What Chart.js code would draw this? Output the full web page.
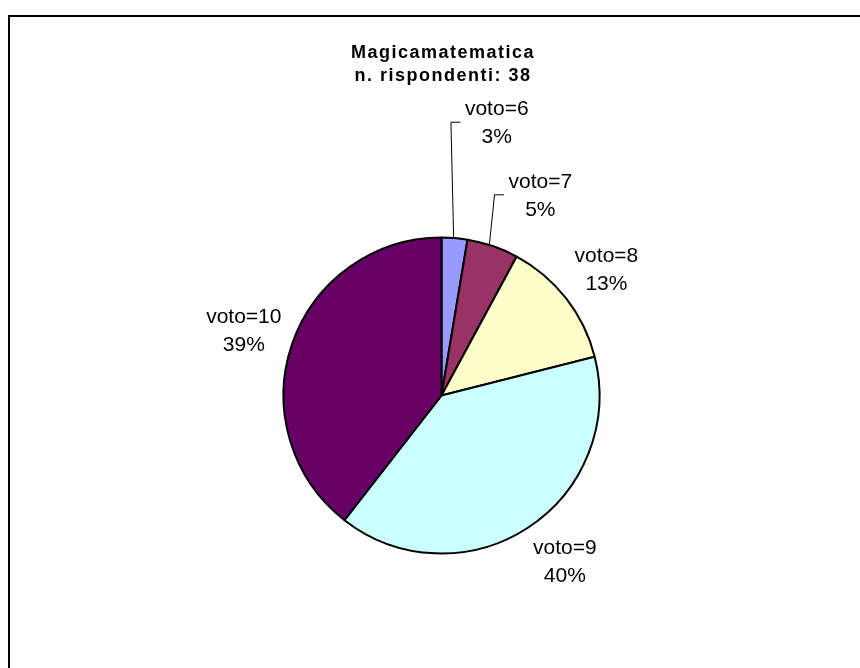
<!DOCTYPE html>
<html>
<head>
<meta charset="utf-8">
<script src="https://cdn.jsdelivr.net/npm/chart.js@4/dist/chart.umd.min.js"></script>
<style>
  html, body { margin: 0; padding: 0; background: #fff; }
  #wrap { position: relative; width: 860px; height: 668px; }
</style>
</head>
<body>
<div id="wrap"><canvas id="pieChart" width="860" height="668"></canvas></div>
<script>
const titleLines = ['Magicamatematica', 'n. rispondenti: 38'];
const categories = ['voto=6', 'voto=7', 'voto=8', 'voto=9', 'voto=10'];
const counts = [1, 2, 5, 15, 15];
const percentLabels = ['3%', '5%', '13%', '40%', '39%'];
const sliceColors = ['#9999FF', '#993366', '#FFFFCC', '#CCFFFF', '#660066'];

// label nudges (px) and which labels get a leader line
const labelNudge = [[38, -67], [31, -5], [0, 0], [9, -11], [0, 0]];
const hasLeader = [true, true, false, false, false];

const labelPlugin = {
    id: 'pieLabels',
    afterDraw(chart) {
        const ctx = chart.ctx;
        ctx.save();

        // frame
        ctx.strokeStyle = '#000';
        ctx.lineWidth = 2;
        ctx.beginPath();
        ctx.moveTo(9, 668);
        ctx.lineTo(9, 16);
        ctx.lineTo(860, 16);
        ctx.stroke();

        // title
        ctx.fillStyle = '#000';
        ctx.font = 'bold 18px "Liberation Sans", Arial, sans-serif';
        ctx.letterSpacing = '1.5px';
        ctx.textAlign = 'center';
        ctx.textBaseline = 'alphabetic';
        ctx.fillText(titleLines[0], 443, 58);
        ctx.fillText(titleLines[1], 443, 81);
        ctx.letterSpacing = '0px';

        // slice labels
        ctx.font = '21px "Liberation Sans", Arial, sans-serif';
        const arcs = chart.getDatasetMeta(0).data;
        arcs.forEach((arc, i) => {
            const p = arc.getProps(['x', 'y', 'startAngle', 'endAngle', 'outerRadius'], true);
            const mid = (p.startAngle + p.endAngle) / 2;
            const dist = p.outerRadius + 51;
            const cx = p.x + Math.cos(mid) * dist + labelNudge[i][0];
            const cy = p.y + Math.sin(mid) * dist + labelNudge[i][1];
            ctx.textAlign = 'center';
            ctx.fillText(categories[i], cx, cy - 5);
            ctx.fillText(percentLabels[i], cx, cy + 23);

            if (hasLeader[i]) {
                const w = Math.max(ctx.measureText(categories[i]).width, ctx.measureText(percentLabels[i]).width);
                const left = cx - w / 2;
                const sy = p.y + Math.sin(mid) * p.outerRadius;
                const sx = p.x + Math.cos(mid) * p.outerRadius * 0.93;
                ctx.lineWidth = 1;
                ctx.beginPath();
                ctx.moveTo(sx, sy);
                ctx.lineTo(left - 14, cy + 2);
                ctx.lineTo(left - 4.5, cy + 2);
                ctx.stroke();
            }
        });
        ctx.restore();
    }
};

new Chart(document.getElementById('pieChart'), {
    type: 'pie',
    data: {
        labels: categories,
        datasets: [{
            data: counts,
            backgroundColor: sliceColors,
            borderColor: '#000',
            borderWidth: 2
        }]
    },
    options: {
        responsive: false,
        animation: false,
        layout: {
            padding: { left: 282.5, right: 259.5, top: 236, bottom: 113 }
        },
        plugins: {
            legend: { display: false },
            tooltip: { enabled: false },
            title: { display: false }
        }
    },
    plugins: [labelPlugin]
});
</script>
</body>
</html>
